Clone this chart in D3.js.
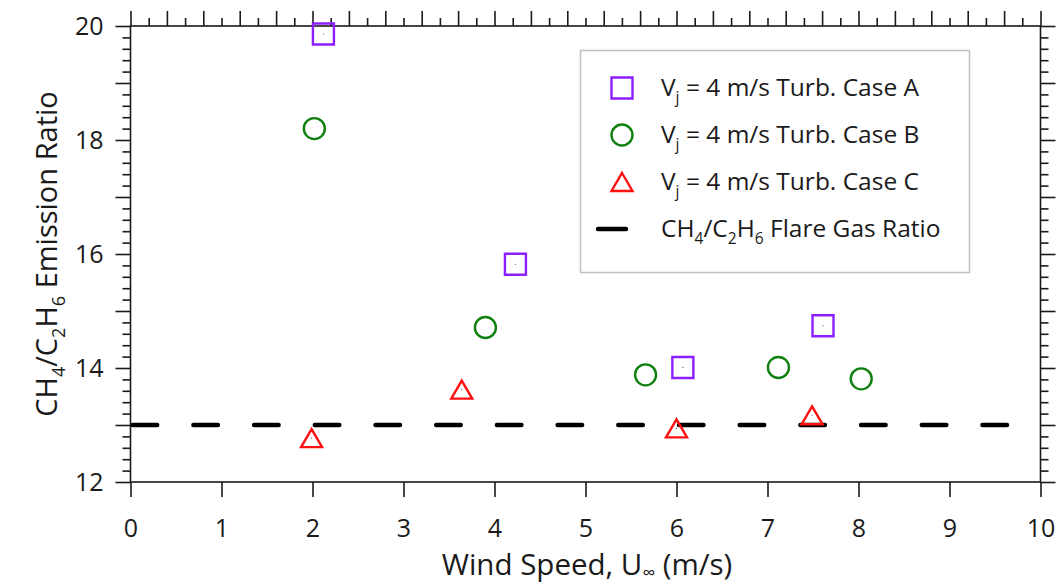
<!DOCTYPE html>
<html>
<head>
<meta charset="utf-8">
<script src="https://cdn.jsdelivr.net/npm/d3@7/dist/d3.min.js"></script>
<style>
  html, body { margin: 0; padding: 0; background: #fff; }
  svg { display: block; font-family: "Open Sans", "Noto Sans", sans-serif; }
</style>
</head>
<body>
<svg id="chart" width="1063" height="585"></svg>
<script>
// ---- data ----
const caseA_x = [2.12, 4.23, 6.07, 7.61];
const caseA_y = [19.86, 15.82, 14.01, 14.74];
const caseB_x = [2.02, 3.90, 5.66, 7.12, 8.03];
const caseB_y = [18.20, 14.71, 13.88, 14.01, 13.81];
const caseC_x = [1.99, 3.64, 6.00, 7.49];
const caseC_y = [12.77, 13.62, 12.94, 13.17];
const flareRatio = 13;
const flareRange = [0, 9.65];
const xTickValues = [0, 1, 2, 3, 4, 5, 6, 7, 8, 9, 10];
const yTickLabels = [12, 14, 16, 18, 20];
const legendLabels = ["Turb. Case A", "Turb. Case B", "Turb. Case C", "Flare Gas Ratio"];

const svg = d3.select("#chart");
const L = 130.5, R = 1040.5, T = 26, B = 482;
const x = d3.scaleLinear().domain([0, 10]).range([L, R]);
const xTop = d3.scaleLinear().domain([0, 25]).range([L, R]);
const y = d3.scaleLinear().domain([12, 20]).range([B, T]);

const axisColor = "#1a1a1a";
const fontSize = 25;

function styleAxis(g) {
  g.select(".domain").remove();
  g.selectAll("line").attr("stroke", axisColor).attr("stroke-width", 1.6);
  g.selectAll("text").attr("fill", "#1a1a1a").style("font-size", fontSize + "px")
    .style("font-family", "'Open Sans', sans-serif");
}

// frame
svg.append("rect").attr("x", L).attr("y", T).attr("width", R - L).attr("height", B - T)
  .attr("fill", "none").attr("stroke", axisColor).attr("stroke-width", 1.6);

// bottom axis
svg.append("g").attr("transform", `translate(0,${B})`)
  .call(d3.axisBottom(x).tickValues(xTickValues).tickSize(15).tickPadding(22).tickFormat(d3.format("d")))
  .call(styleAxis);

// top axis (secondary scale)
svg.append("g").attr("transform", `translate(0,${T})`)
  .call(d3.axisTop(xTop).ticks(25).tickSize(15).tickFormat(""))
  .call(styleAxis);
svg.append("g").attr("transform", `translate(0,${T})`)
  .call(d3.axisTop(xTop).tickValues(d3.range(0.5, 25, 1)).tickSize(8).tickFormat(""))
  .call(styleAxis);

// left axis
svg.append("g").attr("transform", `translate(${L},0)`)
  .call(d3.axisLeft(y).tickValues(d3.range(12, 20.01, 1)).tickSize(15).tickPadding(12)
    .tickFormat(d => yTickLabels.includes(d) ? d : ""))
  .call(styleAxis);
svg.append("g").attr("transform", `translate(${L},0)`)
  .call(d3.axisLeft(y).tickValues(d3.range(12, 20.001, 0.2).filter(v => Math.abs(v - Math.round(v)) > 0.01)).tickSize(8).tickFormat(""))
  .call(styleAxis);

// right axis
svg.append("g").attr("transform", `translate(${R},0)`)
  .call(d3.axisRight(y).tickValues(d3.range(12, 20.01, 1)).tickSize(15).tickFormat(""))
  .call(styleAxis);
svg.append("g").attr("transform", `translate(${R},0)`)
  .call(d3.axisRight(y).tickValues(d3.range(12, 20.001, 0.2).filter(v => Math.abs(v - Math.round(v)) > 0.01)).tickSize(8).tickFormat(""))
  .call(styleAxis);

// flare gas dashed line
svg.append("line")
  .attr("x1", x(flareRange[0]) + 2.2).attr("x2", x(flareRange[1]))
  .attr("y1", y(flareRatio)).attr("y2", y(flareRatio))
  .attr("stroke", "#000").attr("stroke-width", 4.5)
  .attr("stroke-linecap", "round")
  .attr("stroke-dasharray", "24.5,36.2");

const purple = "#8c1eff", green = "#108010", red = "#ff1010";
const sq = 21, cr = 10.5, triW = 21, triH = 18;

function squarePath(cx, cy) {
  return `M${cx - sq/2},${cy - sq/2}h${sq}v${sq}h${-sq}Z`;
}
function triPath(cx, cy) {
  return `M${cx},${cy - triH/2}L${cx + triW/2},${cy + triH/2}L${cx - triW/2},${cy + triH/2}Z`;
}

// Case A squares
const gA = svg.append("g");
caseA_x.forEach((v, i) => {
  gA.append("path").attr("d", squarePath(x(v), y(caseA_y[i])))
    .attr("fill", "none").attr("stroke", purple).attr("stroke-width", 2.4);
  gA.append("circle").attr("cx", x(v)).attr("cy", y(caseA_y[i])).attr("r", 0.6).attr("fill", "#555");
});
// Case B circles
const gB = svg.append("g");
caseB_x.forEach((v, i) => {
  gB.append("circle").attr("cx", x(v)).attr("cy", y(caseB_y[i])).attr("r", cr)
    .attr("fill", "none").attr("stroke", green).attr("stroke-width", 2.4);
});
// Case C triangles
const gC = svg.append("g");
caseC_x.forEach((v, i) => {
  gC.append("path").attr("d", triPath(x(v), y(caseC_y[i])))
    .attr("fill", "none").attr("stroke", red).attr("stroke-width", 2.4);
  gC.append("circle").attr("cx", x(v)).attr("cy", y(caseC_y[i])).attr("r", 0.6).attr("fill", "#555");
});

// legend
const lg = svg.append("g");
lg.append("rect").attr("x", 580.5).attr("y", 50.5).attr("width", 389).attr("height", 222)
  .attr("fill", "#fff").attr("stroke", "#c0c0c0").attr("stroke-width", 1.5);
const rowsY = [88, 135, 182, 229];
const mx = 622, tx = 661;
const lfs = 24.5, lsub = 15.5;
lg.append("path").attr("d", squarePath(mx, rowsY[0])).attr("fill", "none").attr("stroke", purple).attr("stroke-width", 2.4);
lg.append("circle").attr("cx", mx).attr("cy", rowsY[1]).attr("r", cr).attr("fill", "none").attr("stroke", green).attr("stroke-width", 2.4);
lg.append("path").attr("d", triPath(mx, rowsY[2])).attr("fill", "none").attr("stroke", red).attr("stroke-width", 2.4);
lg.append("line").attr("x1", 598).attr("x2", 626).attr("y1", rowsY[3]).attr("y2", rowsY[3])
  .attr("stroke", "#000").attr("stroke-width", 4.5).attr("stroke-linecap", "round");

for (let i = 0; i < 3; i++) {
  const t = lg.append("text").attr("x", tx).attr("y", rowsY[i] + 8).attr("fill", "#1a1a1a").style("font-size", lfs + "px");
  t.append("tspan").text("V");
  t.append("tspan").attr("dy", 7).style("font-size", lsub + "px").text("j");
  t.append("tspan").attr("dy", -7).text(" = 4 m/s " + legendLabels[i]);
}
{
  const t = lg.append("text").attr("x", tx).attr("y", rowsY[3] + 8).attr("fill", "#1a1a1a").style("font-size", lfs + "px");
  t.append("tspan").text("CH");
  t.append("tspan").attr("dy", 7).style("font-size", lsub + "px").text("4");
  t.append("tspan").attr("dy", -7).text("/C");
  t.append("tspan").attr("dy", 7).style("font-size", lsub + "px").text("2");
  t.append("tspan").attr("dy", -7).text("H");
  t.append("tspan").attr("dy", 7).style("font-size", lsub + "px").text("6");
  t.append("tspan").attr("dy", -7).text(" " + legendLabels[3]);
}

// axis titles
{
  const t = svg.append("text").attr("x", 587).attr("y", 575).attr("text-anchor", "middle")
    .attr("fill", "#1a1a1a").style("font-size", "29.5px");
  t.append("tspan").text("Wind Speed, U");
  t.append("tspan").attr("dy", 4).style("font-size", "18px").text("∞");
  t.append("tspan").attr("dy", -4).text(" (m/s)");
}
{
  const t = svg.append("text").attr("transform", "translate(57,254) rotate(-90)").attr("text-anchor", "middle")
    .attr("fill", "#1a1a1a").style("font-size", "29px");
  t.append("tspan").text("CH");
  t.append("tspan").attr("dy", 8).style("font-size", "18px").text("4");
  t.append("tspan").attr("dy", -8).text("/C");
  t.append("tspan").attr("dy", 8).style("font-size", "18px").text("2");
  t.append("tspan").attr("dy", -8).text("H");
  t.append("tspan").attr("dy", 8).style("font-size", "18px").text("6");
  t.append("tspan").attr("dy", -8).text(" Emission Ratio");
}
</script>
</body>
</html>
